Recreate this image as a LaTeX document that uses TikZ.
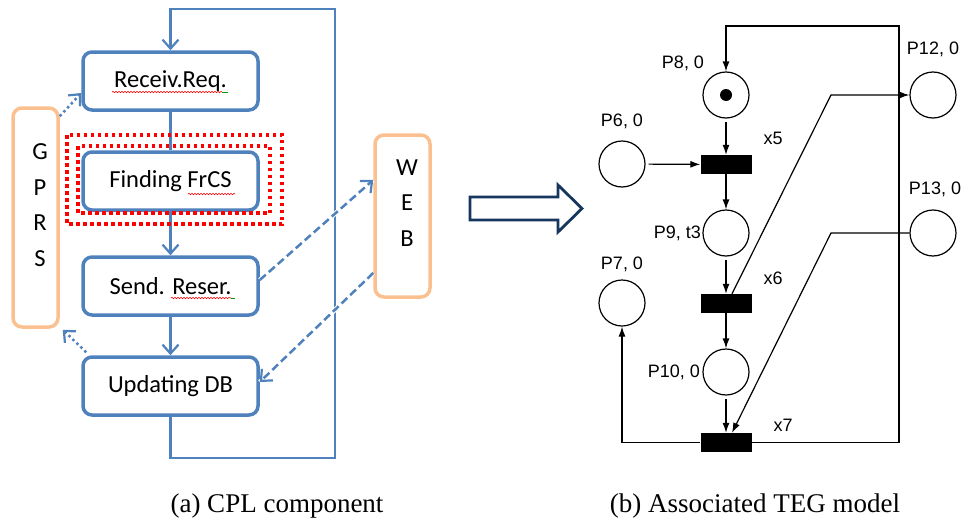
\documentclass[tikz,border=0pt]{standalone}
\usepackage{fontspec}
\setmainfont{Liberation Serif}
\newfontfamily\cplfont{Carlito}
\newfontfamily\tegfont{Liberation Sans}
\usetikzlibrary{arrows.meta,decorations.pathmorphing}

\definecolor{cplblue}{RGB}{79,129,189}
\definecolor{cplorange}{RGB}{250,192,144}
\definecolor{navyarrow}{RGB}{23,54,93}

\tikzset{
  procbox/.style={draw=cplblue, line width=3.5pt, rounded corners=9pt, fill=white,
    minimum width=175pt, minimum height=58pt, inner sep=0pt,
    font=\cplfont\fontsize{24.5}{29}\selectfont},
  linkbox/.style={draw=cplorange, line width=3.5pt, rounded corners=9pt, inner sep=0pt},
  linktext/.style={align=center, font=\cplfont\fontsize{24.5}{35.5}\selectfont},
  flow/.style={cplblue, line width=2.2pt, -{Straight Barb[length=9pt,width=16pt,line width=2.2pt]}},
  dotflow/.style={flow, line width=2.5pt, dash pattern=on 2.5pt off 3pt},
  dashflow/.style={flow, line width=2.5pt, dash pattern=on 8pt off 4pt},
  redframe/.style={red, line width=3.5pt, dash pattern=on 3.5pt off 3.5pt},
  spellmark/.style={red, line width=0.6pt, decorate, decoration={snake, amplitude=0.7pt, segment length=3pt}},
  place/.style={circle, draw, line width=1.2pt, minimum size=46pt, inner sep=0pt},
  trans/.style={fill=black, minimum width=51pt, minimum height=19pt, inner sep=0pt},
  teglabel/.style={font=\tegfont\fontsize{18}{21}\selectfont, inner sep=0pt},
  arc/.style={line width=1.2pt, -{Latex[length=10pt,width=7pt]}},
  caption/.style={font=\fontsize{27}{32}\selectfont}
}

\begin{document}
\begin{tikzpicture}[x=1pt, y=-1pt]
    \useasboundingbox (0,0) rectangle (964,522);

    % (a) the CPL component
    \node[procbox] (recv) at (170.5,81)  {Receiv.Req.};
    \node[procbox] (find) at (170.5,181) {Finding FrCS};
    \node[procbox] (send) at (170.5,286) {Send. Reser.};
    \node[procbox] (upd)  at (170.5,386) {Updating DB};

    \node[linkbox, minimum width=45pt, minimum height=219pt] (gprs) at (35.5,217.5) {};
    \node[linktext] (gprstext) at (40,205) {G\\P\\R\\S};
    \node[linkbox, minimum width=55pt, minimum height=162pt] (web) at (402.5,216) {};
    \node[linktext] (webtext) at (407,203) {W\\E\\B};

    % Draw the main flow and the loop back to the top
    \coordinate (loopbr) at (335,458);
    \coordinate (looptr) at (335,9);
    \draw[cplblue, line width=2.2pt] (recv) -- (find);
    \draw[flow] (find) -- (send);
    \draw[flow] (send) -- (upd);
    \draw[flow] (upd.south) |- (loopbr) -- (looptr) -| (recv.north);

    % GPRS and WEB links
    \draw[dotflow] ([yshift=-10pt]gprs.north east) -- ([yshift=-12pt]recv.west);
    \draw[dotflow] ([xshift=5pt,yshift=3pt]upd.north west) -- ([xshift=3pt,yshift=-1pt]gprs.south east);
    \draw[white, line width=4.5pt] ([yshift=6pt]send.east) -- ([yshift=36pt]web.west);
    \draw[white, line width=4.5pt] ([yshift=-57pt]web.west) -- ([yshift=4pt]upd.east);
    \draw[dashflow] ([yshift=6pt]send.east) -- ([yshift=36pt]web.west);
    \draw[dashflow] ([yshift=-57pt]web.west) -- ([yshift=4pt]upd.east);

    % Draw the red frames round the studied step
    \draw[redframe] (67,135) rectangle (282,224);
    \draw[redframe] (78,146) rectangle (270,213);

    % spell check marks under the words
    \draw[spellmark] (112,92) -- (222,92);
    \draw[green!60!black, line width=0.6pt] (222,92) -- (228,92);
    \draw[spellmark] (188,194) -- (235,194);
    \draw[spellmark] (171,298) -- (231,298);
    \draw[green!60!black, line width=0.6pt] (231,298) -- (235,298);

    % the hollow arrow between the two parts
    \draw[navyarrow, line width=2.8pt, line join=miter]
        (470,197) -- (558,197) -- (558,185) -- (582,208.5) -- (558,232) -- (558,220) -- (470,220) -- cycle;

    % (b) the TEG model
    \node[place] (p8)  at (726,95)  {};
    \fill (p8) circle (6pt);
    \node[place] (p6)  at (622,164) {};
    \node[trans] (x5)  at (726,164.5) {};
    \node[place] (p9)  at (726,233) {};
    \node[trans] (x6)  at (726,303.5) {};
    \node[place] (p7)  at (622,303) {};
    \node[place] (p10) at (726,372) {};
    \node[trans] (x7)  at (726,442.5) {};
    \node[place] (p12) at (933,95)  {};
    \node[place] (p13) at (933,233) {};

    \node[teglabel] (lp8)  at (683,63)  {P8, 0};
    \node[teglabel] (lp6)  at (622,121) {P6, 0};
    \node[teglabel] (lx5)  at (773,138) {x5};
    \node[teglabel, anchor=east] (lp9) at (701,233) {P9, t3};
    \node[teglabel] (lx6)  at (773,278) {x6};
    \node[teglabel] (lp7)  at (622,264) {P7, 0};
    \node[teglabel, anchor=east] (lp10) at (700,372) {P10, 0};
    \node[teglabel] (lx7)  at (783,425) {x7};
    \node[teglabel] (lp12) at (933,49)  {P12, 0};
    \node[teglabel] (lp13) at (935,189) {P13, 0};

    % Draw the arcs
    \coordinate (tegtr) at (899,26);
    \coordinate (benda) at (831,95);
    \coordinate (bendb) at (831,233);
    \draw[arc, shorten <=3pt] (p8) -- (x5);
    \draw[arc, shorten <=3pt] (p6) -- (x5);
    \draw[arc] (x5) -- (p9);
    \draw[arc, shorten <=3pt] (p9) -- (x6);
    \draw[arc] (x6) -- (p10);
    \draw[arc, shorten <=3pt] (p10) -- (x7);
    \draw[arc] (x7.east) -| (tegtr) -| (p8.north);
    \draw[arc] ([xshift=6pt]x6.north) -- (benda) -- (p12.west);
    \draw[arc] (p13.west) -- (bendb) -- ([xshift=6pt]x7.north);
    \draw[arc] (x7.west) -| (p7.south);

    % captions
    \node[caption] (capa) at (277,506) {(a) CPL component};
    \node[caption] (capb) at (755,506) {(b) Associated TEG model};
\end{tikzpicture}
\end{document}
